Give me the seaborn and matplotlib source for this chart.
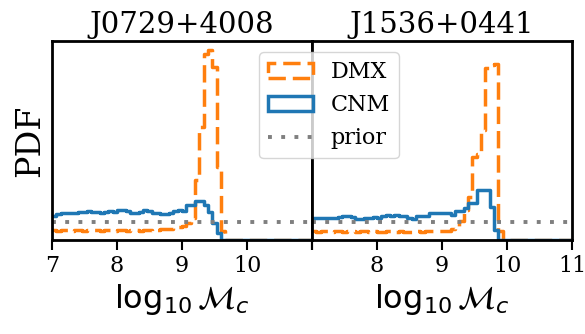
import numpy as np
import pandas as pd
import matplotlib
matplotlib.use("Agg")
import matplotlib.pyplot as plt
import seaborn as sns
from matplotlib.patches import Patch
from matplotlib.lines import Line2D

# bins of log10 chirp mass, 60 bins from 7 to 11
n_bins = 60
mc_range = (7, 11)
centers = np.linspace(7, 11, n_bins + 1)[:-1] + 2.0 / n_bins

pulsars = ['J0729+4008', 'J1536+0441']

dmx_left = [0.14, 0.13, 0.14, 0.14, 0.13, 0.14, 0.14, 0.13, 0.14, 0.14,
            0.14, 0.13, 0.14, 0.14, 0.13, 0.14, 0.14, 0.13, 0.14, 0.14,
            0.13, 0.14, 0.14, 0.13, 0.14, 0.15, 0.15, 0.16, 0.17, 0.18,
            0.20, 0.24, 0.30, 0.83, 1.57, 2.59, 2.64, 2.41, 1.02, 0.12] + [0.0] * 20
cnm_left = [0.34, 0.36, 0.37, 0.38, 0.38, 0.38, 0.39, 0.39, 0.40, 0.39,
            0.39, 0.38, 0.39, 0.40, 0.39, 0.42, 0.42, 0.41, 0.38, 0.37,
            0.39, 0.42, 0.41, 0.38, 0.38, 0.36, 0.36, 0.37, 0.40, 0.42,
            0.40, 0.49, 0.49, 0.55, 0.55, 0.49, 0.39, 0.24, 0.10] + [0.0] * 21

dmx_right = [0.12, 0.11, 0.12, 0.12, 0.11, 0.12, 0.12, 0.11, 0.12, 0.12,
             0.11, 0.12, 0.12, 0.11, 0.12, 0.11, 0.11, 0.12, 0.12, 0.11,
             0.12, 0.11, 0.11, 0.12, 0.12, 0.11, 0.12, 0.12, 0.12, 0.13,
             0.13, 0.13, 0.15, 0.19, 0.26, 0.42, 0.60, 1.16, 1.20, 1.53,
             2.40, 2.43, 2.45, 0.12] + [0.0] * 16
cnm_right = [0.31, 0.31, 0.30, 0.31, 0.31, 0.30, 0.32, 0.33, 0.33, 0.32,
             0.29, 0.29, 0.31, 0.31, 0.32, 0.31, 0.34, 0.35, 0.34, 0.35,
             0.34, 0.34, 0.30, 0.29, 0.33, 0.34, 0.33, 0.37, 0.38, 0.37,
             0.37, 0.38, 0.35, 0.40, 0.40, 0.44, 0.51, 0.51, 0.70, 0.70,
             0.70, 0.46, 0.14] + [0.0] * 17

prior_x = [7, 11]
prior_pdf = [0.25, 0.25]

sns.set_style("ticks")
plt.rcParams['font.family'] = 'DejaVu Serif'
plt.rcParams['mathtext.fontset'] = 'dejavusans'
plt.rcParams['text.color'] = 'black'
plt.rcParams['axes.labelcolor'] = 'black'
plt.rcParams['axes.edgecolor'] = 'black'
plt.rcParams['xtick.color'] = 'black'

orange = '#ff7f0e'
blue = '#1f77b4'
gray = '#7f7f7f'
dash = (0, (5, 2))
dots = (0, (1, 2.4))

fig, axes = plt.subplots(1, 2, figsize=(5.85, 3.34), dpi=100, sharey=True)
plt.subplots_adjust(left=0.0889, right=0.9778, top=0.8772, bottom=0.2814, wspace=0)

panels = [(dmx_left, cnm_left), (dmx_right, cnm_right)]
for i, ax in enumerate(axes):
    dmx, cnm = panels[i]
    df = pd.DataFrame({'logMc': centers, 'dmx': dmx, 'cnm': cnm})
    sns.histplot(data=df, x='logMc', weights='dmx', bins=n_bins, binrange=mc_range,
                 element='step', fill=False, color=orange, lw=2.5, linestyle=dash, ax=ax)
    sns.histplot(data=df, x='logMc', weights='cnm', bins=n_bins, binrange=mc_range,
                 element='step', fill=False, color=blue, lw=2.5, ax=ax)
    sns.lineplot(x=prior_x, y=prior_pdf, color=gray, lw=2.8, linestyle=dots, ax=ax)
    ax.set_xlim(7, 11)
    ax.set_ylim(0, 2.77)
    ax.set_yticks([])
    ax.set_ylabel('')
    ax.set_title(pulsars[i], fontsize=21)
    ax.set_xlabel(r'$\log_{10}\mathcal{M}_c$', fontsize=23)
    ax.set_xticks([7, 8, 9, 10, 11])
    for s in ax.spines.values():
        s.set_linewidth(2)
        s.set_color('black')
    ax.tick_params(axis='x', labelsize=16, length=7, width=1.5)

axes[0].set_xticklabels(['7', '8', '9', '10', ''])
axes[1].set_xticklabels(['', '8', '9', '10', '11'])
axes[0].set_ylabel('PDF', fontsize=24)

handles = [Patch(facecolor='none', edgecolor=orange, lw=2.5, linestyle=dash),
           Patch(facecolor='none', edgecolor=blue, lw=2.5),
           Line2D([0], [0], color=gray, lw=2.8, linestyle=dots)]
fig.legend(handles, ['DMX', 'CNM', 'prior'], loc='upper center',
           bbox_to_anchor=(0.5624, 0.877), fontsize=16)

plt.savefig('out.png', dpi=100)
